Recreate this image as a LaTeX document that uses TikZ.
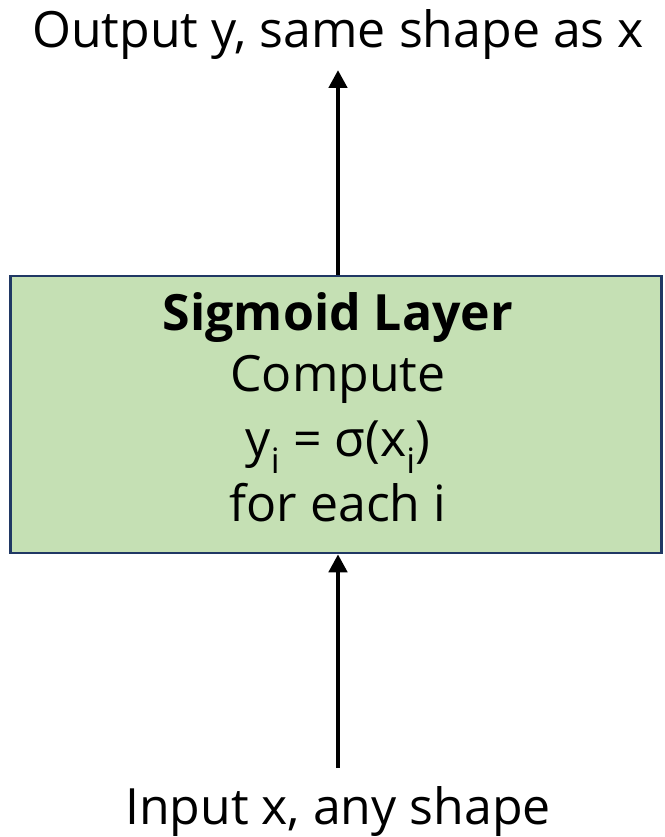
\documentclass[tikz,border=0pt]{standalone}
\usepackage{fontspec}
\setmainfont{Open Sans}
\usetikzlibrary{arrows.meta}
\definecolor{boxfill}{HTML}{C5E0B4}
\definecolor{boxedge}{HTML}{203864}
\begin{document}
\begin{tikzpicture}[x=1pt,y=-1pt,
  lbl/.style={font=\fontsize{50}{60}\selectfont, inner sep=0pt, anchor=base},
  arr/.style={line width=4.5pt, -{Triangle[width=18pt,length=18pt]}},
  layerbox/.style={draw=boxedge, line width=2.5pt, fill=boxfill}]
\useasboundingbox (0,0) rectangle (664,837);
\node[layerbox, minimum width=651pt, minimum height=277pt, inner sep=0pt] (box) at (336,414.5) {};
\node[lbl, font=\fontsize{50}{60}\selectfont\bfseries] (t1) at (338,330) {Sigmoid Layer};
\node[lbl] (t2) at (338,391) {Compute};
\node[lbl] (t3) at (338,456) {y\textsubscript{i} = σ(x\textsubscript{i})};
\node[lbl] (t4) at (338,521) {for each i};
\node[lbl] (out) at (338,48) {Output y, same shape as x};
\node[lbl] (in) at (338,824) {Input x, any shape};
\coordinate (topend) at (338,70);
\coordinate (botstart) at (338,768);
\draw[arr] (box.north -| topend) -- (topend);
\draw[arr] (botstart) -- (box.south -| botstart);
\end{tikzpicture}
\end{document}
